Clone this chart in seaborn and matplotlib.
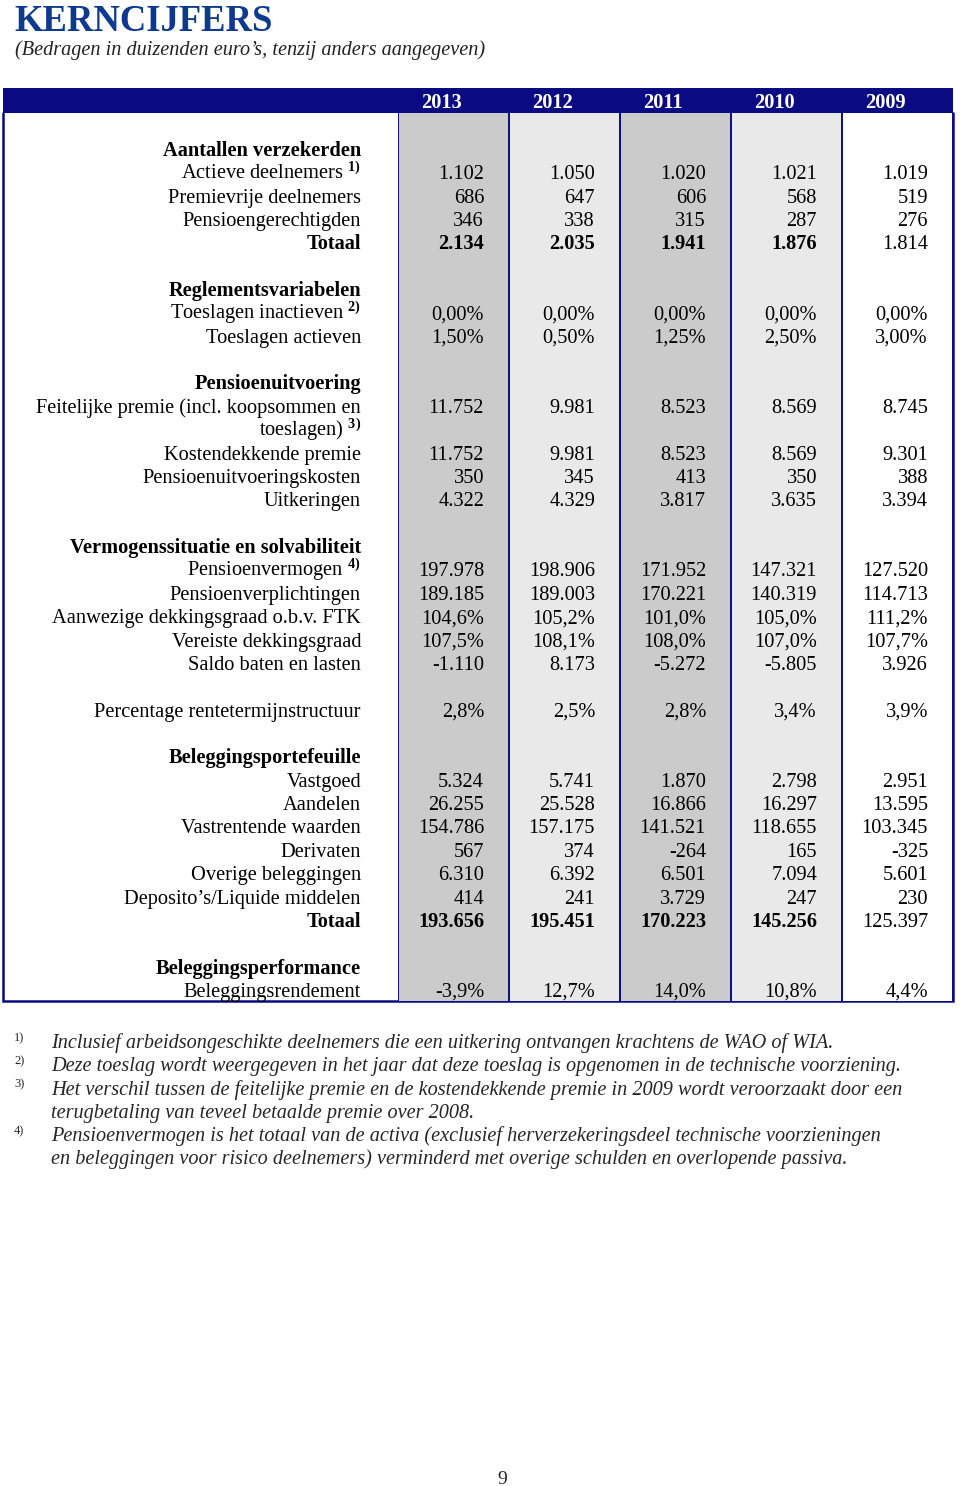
import numpy as np
import matplotlib
matplotlib.use("Agg")
import matplotlib.pyplot as plt
from matplotlib.colors import ListedColormap
from matplotlib.patches import Rectangle
from matplotlib.transforms import blended_transform_factory
import seaborn as sns

# ---------------- data ----------------
years = ["2013", "2012", "2011", "2010", "2009"]

# Aantallen verzekerden
actieve_deelnemers = ["1.102", "1.050", "1.020", "1.021", "1.019"]
premievrije_deelnemers = ["686", "647", "606", "568", "519"]
pensioengerechtigden = ["346", "338", "315", "287", "276"]
totaal_verzekerden = ["2.134", "2.035", "1.941", "1.876", "1.814"]

# Reglementsvariabelen
toeslagen_inactieven = ["0,00%", "0,00%", "0,00%", "0,00%", "0,00%"]
toeslagen_actieven = ["1,50%", "0,50%", "1,25%", "2,50%", "3,00%"]

# Pensioenuitvoering
feitelijke_premie = ["11.752", "9.981", "8.523", "8.569", "8.745"]
kostendekkende_premie = ["11.752", "9.981", "8.523", "8.569", "9.301"]
uitvoeringskosten = ["350", "345", "413", "350", "388"]
uitkeringen = ["4.322", "4.329", "3.817", "3.635", "3.394"]

# Vermogenssituatie en solvabiliteit
pensioenvermogen = ["197.978", "198.906", "171.952", "147.321", "127.520"]
pensioenverplichtingen = ["189.185", "189.003", "170.221", "140.319", "114.713"]
aanwezige_dekkingsgraad = ["104,6%", "105,2%", "101,0%", "105,0%", "111,2%"]
vereiste_dekkingsgraad = ["107,5%", "108,1%", "108,0%", "107,0%", "107,7%"]
saldo_baten_lasten = ["-1.110", "8.173", "-5.272", "-5.805", "3.926"]

rentetermijnstructuur = ["2,8%", "2,5%", "2,8%", "3,4%", "3,9%"]

# Beleggingsportefeuille
vastgoed = ["5.324", "5.741", "1.870", "2.798", "2.951"]
aandelen = ["26.255", "25.528", "16.866", "16.297", "13.595"]
vastrentende_waarden = ["154.786", "157.175", "141.521", "118.655", "103.345"]
derivaten = ["567", "374", "-264", "165", "-325"]
overige_beleggingen = ["6.310", "6.392", "6.501", "7.094", "5.601"]
deposito_liquide = ["414", "241", "3.729", "247", "230"]
totaal_beleggingen = ["193.656", "195.451", "170.223", "145.256", "125.397"]

# Beleggingsperformance
beleggingsrendement = ["-3,9%", "12,7%", "14,0%", "10,8%", "4,4%"]

footnotes = [
    ("1)", "Inclusief arbeidsongeschikte deelnemers die een uitkering ontvangen krachtens de WAO of WIA."),
    ("2)", "Deze toeslag wordt weergegeven in het jaar dat deze toeslag is opgenomen in de technische voorziening."),
    ("3)", "Het verschil tussen de feitelijke premie en de kostendekkende premie in 2009 wordt veroorzaakt door een\n"
           "terugbetaling van teveel betaalde premie over 2008."),
    ("4)", "Pensioenvermogen is het totaal van de activa (exclusief herverzekeringsdeel technische voorzieningen\n"
           "en beleggingen voor risico deelnemers) verminderd met overige schulden en overlopende passiva."),
]

# rows: (label, values, kind)  kind: 'head' bold label, 'row', 'total' (bold), 'blank'
rows = [
    ("Aantallen verzekerden", None, "head"),
    ("Actieve deelnemers $^{\\mathbf{1)}}$", actieve_deelnemers, "row"),
    ("Premievrije deelnemers", premievrije_deelnemers, "row"),
    ("Pensioengerechtigden", pensioengerechtigden, "row"),
    ("Totaal", totaal_verzekerden, "total"),
    ("", None, "blank"),
    ("Reglementsvariabelen", None, "head"),
    ("Toeslagen inactieven $^{\\mathbf{2)}}$", toeslagen_inactieven, "row"),
    ("Toeslagen actieven", toeslagen_actieven, "row"),
    ("", None, "blank"),
    ("Pensioenuitvoering", None, "head"),
    ("Feitelijke premie (incl. koopsommen en", feitelijke_premie, "row"),
    ("toeslagen) $^{\\mathbf{3)}}$", None, "row"),
    ("Kostendekkende premie", kostendekkende_premie, "row"),
    ("Pensioenuitvoeringskosten", uitvoeringskosten, "row"),
    ("Uitkeringen", uitkeringen, "row"),
    ("", None, "blank"),
    ("Vermogenssituatie en solvabiliteit", None, "head"),
    ("Pensioenvermogen $^{\\mathbf{4)}}$", pensioenvermogen, "row"),
    ("Pensioenverplichtingen", pensioenverplichtingen, "row"),
    ("Aanwezige dekkingsgraad o.b.v. FTK", aanwezige_dekkingsgraad, "row"),
    ("Vereiste dekkingsgraad", vereiste_dekkingsgraad, "row"),
    ("Saldo baten en lasten", saldo_baten_lasten, "row"),
    ("", None, "blank"),
    ("Percentage rentetermijnstructuur", rentetermijnstructuur, "row"),
    ("", None, "blank"),
    ("Beleggingsportefeuille", None, "head"),
    ("Vastgoed", vastgoed, "row"),
    ("Aandelen", aandelen, "row"),
    ("Vastrentende waarden", vastrentende_waarden, "row"),
    ("Derivaten", derivaten, "row"),
    ("Overige beleggingen", overige_beleggingen, "row"),
    ("Deposito\u2019s/Liquide middelen", deposito_liquide, "row"),
    ("Totaal", totaal_beleggingen, "total"),
    ("", None, "blank"),
    ("Beleggingsperformance", None, "head"),
    ("Beleggingsrendement", beleggingsrendement, "row"),
]

# ---------------- style ----------------
sns.set_theme(style="white")
plt.rcParams["font.family"] = ["Liberation Serif", "DejaVu Serif"]
plt.rcParams["mathtext.fontset"] = "custom"
plt.rcParams["mathtext.rm"] = "Liberation Serif"
plt.rcParams["mathtext.bf"] = "Liberation Serif:bold"
plt.rcParams["mathtext.it"] = "Liberation Serif:italic"

W, H = 960, 1486
NAVY = "#0a0a82"
TITLE_BLUE = "#0d3a8e"
FS = 14.7

fig = plt.figure(figsize=(W / 100, H / 100), dpi=100)

# page axes in pixel coordinates
page = fig.add_axes([0, 0, 1, 1])
page.set_xlim(0, W)
page.set_ylim(H, 0)
page.axis("off")

# table geometry (pixels)
tab_left, tab_right = 3, 953
head_top, head_bot = 88, 113
body_bot = 1001
col_left = 398

# header bar
page.add_patch(Rectangle((tab_left, head_top), tab_right - tab_left, head_bot - head_top,
                         facecolor=NAVY, edgecolor="none", zorder=1))
# outer frame of body
page.plot([tab_left, tab_left, tab_right, tab_right],
          [head_bot, body_bot, body_bot, head_bot], color=NAVY, lw=1.8, zorder=5,
          solid_joinstyle="miter")

# title
page.text(14, 31, "KERNCIJFERS", fontsize=26.4, fontweight="bold", color=TITLE_BLUE,
          ha="left", va="baseline")
page.text(15, 55, "(Bedragen in duizenden euro\u2019s, tenzij anders aangegeven)",
          fontsize=14.6, style="italic", color="#222222", ha="left", va="baseline")

# heatmap for the column shading
n_rows = len(rows) + 1
column_shades = [2, 1, 2, 1, 0]
shade = np.tile(np.array(column_shades, dtype=float), (n_rows, 1))
ax = fig.add_axes([col_left / W, 1 - body_bot / H, (tab_right - col_left) / W,
                   (body_bot - head_bot) / H])
sns.heatmap(shade, ax=ax, cmap=ListedColormap(["#ffffff", "#e9e9e9", "#cbcbcb"]),
            vmin=0, vmax=2, cbar=False, xticklabels=False, yticklabels=False)
ax.set_facecolor("white")
ax.vlines(np.arange(0, len(years) + 1), 0, n_rows, color=NAVY, lw=1.4, zorder=3)
ax.set_xlim(0, len(years))
ax.set_ylim(n_rows, 0)

# year labels in header
hdr = blended_transform_factory(ax.transData, page.transData)
for j, y in enumerate(years):
    page.text(j + 0.39, 107.5, y, transform=hdr, color="white", fontsize=FS,
              fontweight="bold", ha="center", va="baseline", zorder=6)

lab = blended_transform_factory(page.transData, ax.transData)
base = 0.33
for r, (label, vals, kind) in enumerate(rows):
    yy = r + 1.5 + base
    if kind == "blank":
        continue
    bold = kind in ("head", "total")
    page.text(361, yy, label, transform=lab, ha="right", va="baseline", fontsize=FS,
              fontweight="bold" if bold else "normal", color="black", zorder=6)
    if vals is not None:
        for j, v in enumerate(vals):
            vb = kind == "total" and j < 4
            ax.text(j + 0.775, yy, v, ha="right", va="baseline", fontsize=FS,
                    fontweight="bold" if vb else "normal", color="black", zorder=6)

# footnotes
fy = 1048
for mark, txt in footnotes:
    page.text(14, fy - 7, mark, fontsize=9, ha="left", va="baseline")
    lines = txt.split("\n")
    for ln in lines:
        page.text(51, fy, ln, fontsize=14.6, style="italic", ha="left", va="baseline")
        fy += 23.3

page.text(502, 1484, "9", fontsize=14, ha="center", va="baseline")

fig.savefig("out.png", dpi=100)
